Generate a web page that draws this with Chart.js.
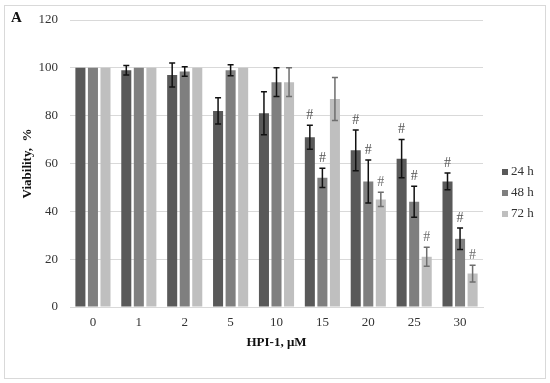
<!DOCTYPE html>
<html>
<head>
<meta charset="utf-8">
<script src="https://cdn.jsdelivr.net/npm/chart.js@4.4.1/dist/chart.umd.min.js"></script>
<style>
    body { margin: 0; background: #fff; }
    #wrap { width: 550px; height: 383px; }
</style>
</head>
<body>
<div id="wrap"><canvas id="myChart" width="550" height="383"></canvas></div>
<script>
// HPI-1 concentration, μM
const doses = ['0', '1', '2', '5', '10', '15', '20', '25', '30'];
const seriesNames = ['24 h', '48 h', '72 h'];

// viability, % (mean)
const via24 = [100, 99, 97, 82, 81, 71, 65.5, 62, 52.5];
const via48 = [100, 100, 98.5, 99, 94, 54, 52.5, 44, 28.5];
const via72 = [100, 100, 100, 100, 94, 87, 45, 21, 14];

// error (±)
const err24 = [0, 2, 5, 5.5, 9, 5, 8.5, 8, 3.5];
const err48 = [0, 0, 2, 2.3, 6, 4, 9, 6.5, 4.5];
const err72 = [0, 0, 0, 0, 6, 9, 3, 4, 3.5];

// significance marks (#)
const sig24 = [0, 0, 0, 0, 0, 1, 1, 1, 1];
const sig48 = [0, 0, 0, 0, 0, 1, 1, 1, 1];
const sig72 = [0, 0, 0, 0, 0, 0, 1, 1, 1];

const yTicks = [0, 20, 40, 60, 80, 100, 120];

const barColors = ['#595959', '#7f7f7f', '#bfbfbf'];
const errColors = ['#111111', '#111111', '#6e6e6e'];
const serif = "'Liberation Serif', 'DejaVu Serif', serif";

const errs = [err24, err48, err72];
const sigs = [sig24, sig48, sig72];

const framePlugin = {
    id: 'frame',
    beforeDraw(chart) {
        const ctx = chart.ctx;
        ctx.save();
        ctx.fillStyle = '#fff';
        ctx.fillRect(0, 0, chart.width, chart.height);
        ctx.strokeStyle = '#d9d9d9';
        ctx.lineWidth = 1;
        ctx.strokeRect(4.5, 5.5, 541, 373);
        ctx.fillStyle = '#111';
        ctx.font = 'bold 15px ' + serif;
        ctx.textBaseline = 'middle';
        ctx.fillText('A', 11, 18);
        ctx.restore();
    }
};

const errorPlugin = {
    id: 'errorBars',
    afterDatasetsDraw(chart) {
        const ctx = chart.ctx;
        const y = chart.scales.y;
        ctx.save();
        chart.data.datasets.forEach((ds, i) => {
            const meta = chart.getDatasetMeta(i);
            meta.data.forEach((bar, j) => {
                const v = ds.data[j];
                const e = errs[i][j];
                const top = y.getPixelForValue(v + e);
                if (e > 0) {
                    const bot = y.getPixelForValue(v - e);
                    ctx.strokeStyle = errColors[i];
                    ctx.lineWidth = 1.5;
                    ctx.beginPath();
                    ctx.moveTo(bar.x, top);
                    ctx.lineTo(bar.x, bot);
                    ctx.moveTo(bar.x - 3, top);
                    ctx.lineTo(bar.x + 3, top);
                    ctx.moveTo(bar.x - 3, bot);
                    ctx.lineTo(bar.x + 3, bot);
                    ctx.stroke();
                }
                if (sigs[i][j]) {
                    ctx.fillStyle = i === 2 ? '#6e6e6e' : '#555';
                    ctx.font = '14px ' + serif;
                    ctx.textAlign = 'center';
                    ctx.textBaseline = 'bottom';
                    ctx.fillText('#', bar.x, top - 3);
                }
            });
        });
        ctx.restore();
    }
};

const legendPlugin = {
    id: 'sideLegend',
    afterDraw(chart) {
        const ctx = chart.ctx;
        ctx.save();
        ctx.font = '13px ' + serif;
        ctx.textBaseline = 'middle';
        seriesNames.forEach((name, i) => {
            const ly = 172 + i * 21;
            ctx.fillStyle = barColors[i];
            ctx.fillRect(502, ly - 3, 6, 6);
            ctx.fillStyle = '#333';
            ctx.fillText(name, 511, ly);
        });
        ctx.restore();
    }
};

const ctx = document.getElementById('myChart').getContext('2d');
const chart = new Chart(ctx, {
    type: 'bar',
    data: {
        labels: doses,
        datasets: [via24, via48, via72].map((d, i) => ({
            label: seriesNames[i],
            data: d,
            backgroundColor: barColors[i],
            borderWidth: 0,
            categoryPercentage: 0.82,
            barPercentage: 0.8
        }))
    },
    options: {
        responsive: false,
        animation: false,
        devicePixelRatio: 1,
        layout: { padding: { left: 0, top: 20, right: 67, bottom: 0 } },
        plugins: {
            legend: { display: false },
            tooltip: { enabled: false }
        },
        scales: {
            x: {
                grid: { display: false, drawTicks: false },
                border: { color: '#d9d9d9', width: 1 },
                ticks: { color: '#333', font: { family: serif, size: 13 }, padding: 8 },
                title: {
                    display: true,
                    text: 'HPI-1, μM',
                    color: '#111',
                    font: { family: serif, size: 13, weight: 'bold' },
                    padding: { top: 0, bottom: 33 }
                },
                afterFit(scale) { scale.height = 76; }
            },
            y: {
                min: 0,
                max: 120,
                afterBuildTicks(scale) { scale.ticks = yTicks.map(v => ({ value: v })); },
                grid: { color: '#d9d9d9', drawTicks: false },
                border: { display: false },
                ticks: { color: '#333', font: { family: serif, size: 13 }, padding: 12 },
                title: {
                    display: true,
                    text: 'Viability,  %',
                    color: '#111',
                    font: { family: serif, size: 13, weight: 'bold' },
                    padding: { top: 20, bottom: 0 }
                },
                afterFit(scale) { scale.width = 70; }
            }
        }
    },
    plugins: [framePlugin, errorPlugin, legendPlugin]
});
</script>
</body>
</html>
